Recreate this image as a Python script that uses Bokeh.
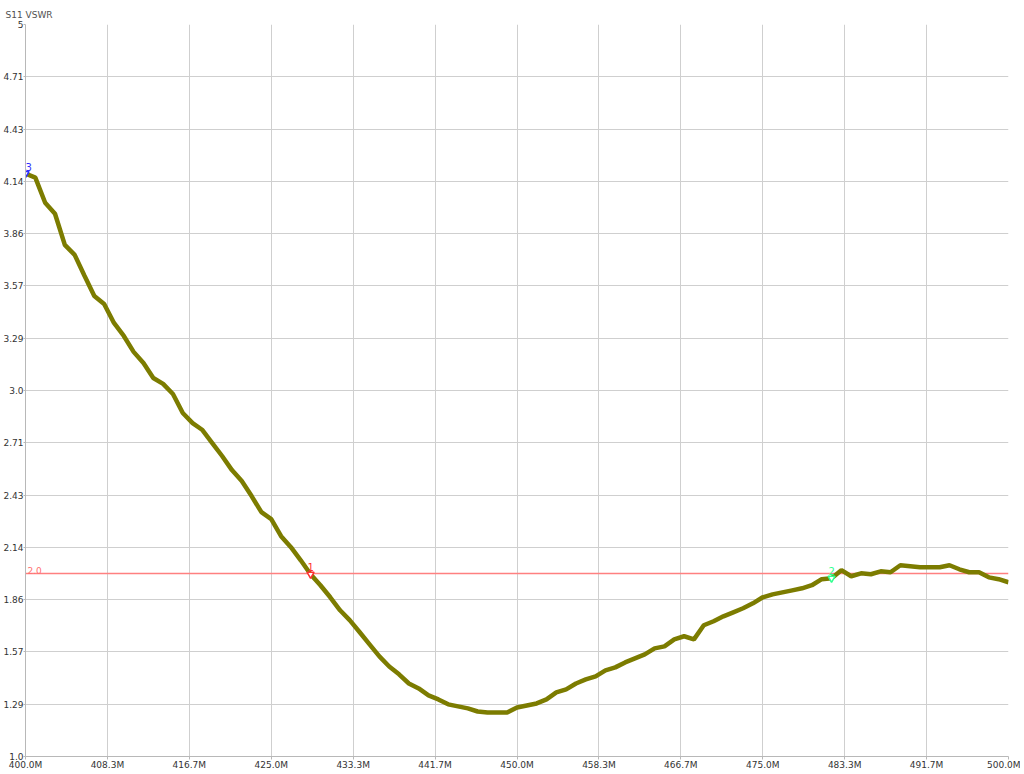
from bokeh.plotting import figure
from bokeh.models import FixedTicker, Range1d, ColumnDataSource
from bokeh.core.properties import value
from bokeh.embed import file_html
from bokeh.resources import INLINE

# sweep 400..500 MHz, 1 MHz step
freq_mhz = list(range(400, 501))
vswr = [
    4.185, 4.163, 4.026, 3.966, 3.796, 3.741, 3.627, 3.517, 3.473, 3.369,
    3.298, 3.211, 3.150, 3.068, 3.036, 2.981, 2.877, 2.822, 2.784, 2.713,
    2.642, 2.565, 2.505, 2.423, 2.335, 2.297, 2.204, 2.144, 2.072, 1.996,
    1.936, 1.870, 1.799, 1.744, 1.679, 1.613, 1.547, 1.492, 1.449, 1.399,
    1.372, 1.334, 1.312, 1.285, 1.274, 1.263, 1.246, 1.241, 1.241, 1.241,
    1.268, 1.279, 1.290, 1.312, 1.350, 1.367, 1.399, 1.421, 1.438, 1.471,
    1.487, 1.514, 1.536, 1.558, 1.591, 1.602, 1.640, 1.657, 1.640, 1.717,
    1.739, 1.766, 1.788, 1.810, 1.837, 1.870, 1.886, 1.897, 1.908, 1.919,
    1.936, 1.969, 1.974, 2.018, 1.985, 2.001, 1.996, 2.012, 2.007, 2.045,
    2.040, 2.034, 2.034, 2.034, 2.045, 2.023, 2.007, 2.007, 1.979, 1.969,
    1.952,
]

marker_names = ["1", "2", "3"]
marker_freqs = [429, 482, 400]
marker_colors = ["#ff3030", "#30ff90", "#3030ff"]
marker_align = ["center", "center", "left"]

limit_value = 2.0
limit_label = "2.0"

x_tick_values = [400.0, 408.333, 416.667, 425.0, 433.333, 441.667, 450.0,
                 458.333, 466.667, 475.0, 483.333, 491.667, 500.0]
x_tick_labels = ["400.0M", "408.3M", "416.7M", "425.0M", "433.3M", "441.7M",
                 "450.0M", "458.3M", "466.7M", "475.0M", "483.3M", "491.7M",
                 "500.0M"]
y_tick_values = [1.0, 1.2857, 1.5714, 1.8571, 2.1429, 2.4286, 2.7143, 3.0,
                 3.2857, 3.5714, 3.8571, 4.1429, 4.4286, 4.7143, 5.0]
y_tick_labels = ["1.0", "1.29", "1.57", "1.86", "2.14", "2.43", "2.71", "3.0",
                 "3.29", "3.57", "3.86", "4.14", "4.43", "4.71", "5"]

FONT = "DejaVu Sans"
GRID = "#cfcfcf"

p = figure(
    width=1020,
    height=772,
    x_range=Range1d(400, 500),
    y_range=Range1d(1, 5),
    output_backend="svg",
    toolbar_location=None,
    min_border_left=10,
    min_border_right=12,
    min_border_top=24,
    min_border_bottom=16,
    title="S11 VSWR",
)
p.outline_line_color = None
p.background_fill_color = "white"

p.title.text_font = FONT
p.title.text_font_size = "9px"
p.title.text_font_style = "normal"
p.title.text_color = "#505050"
p.title.align = "left"
p.title.offset = -20
p.title.standoff = 9

p.xaxis.ticker = FixedTicker(ticks=x_tick_values)
p.xaxis.major_label_overrides = dict(zip(x_tick_values, x_tick_labels))
p.yaxis.ticker = FixedTicker(ticks=y_tick_values)
p.yaxis.major_label_overrides = dict(zip(y_tick_values, y_tick_labels))

for ax in (p.xaxis, p.yaxis):
    ax.axis_line_color = "#b8b8b8"
    ax.major_tick_line_color = "#b8b8b8"
    ax.major_tick_in = 0
    ax.major_tick_out = 3
    ax.minor_tick_line_color = None
    ax.major_label_standoff = 0
    ax.major_label_text_font = FONT
    ax.major_label_text_font_size = "9px"
    ax.major_label_text_color = "#333333"
p.yaxis.major_tick_out = 2

p.xgrid.grid_line_color = GRID
p.ygrid.grid_line_color = GRID

# 2.0 limit line
p.line([400, 500], [limit_value, limit_value], line_color="#ff8080",
       line_width=1.5)
p.text([400], [limit_value], text=[limit_label], text_color="#ff7070",
       text_font=value(FONT), text_font_size="9px",
       text_baseline="bottom", x_offset=2, y_offset=0)

p.line(freq_mhz, vswr, line_color="#7c7c00", line_width=4.5)

marker_vals = [vswr[freq_mhz.index(f)] for f in marker_freqs]
msrc = ColumnDataSource(dict(x=marker_freqs, y=marker_vals, name=marker_names,
                             color=marker_colors, align=marker_align))
p.scatter("x", "y", source=msrc, marker="inverted_triangle", size=7,
          fill_color="white", line_color="color", line_width=1.5)
p.text("x", "y", text="name", source=msrc, text_color="color",
       text_font=value(FONT), text_font_size="10px",
       text_align="align", text_baseline="bottom", y_offset=-3)

open("out.html", "w").write(file_html(p, INLINE))
